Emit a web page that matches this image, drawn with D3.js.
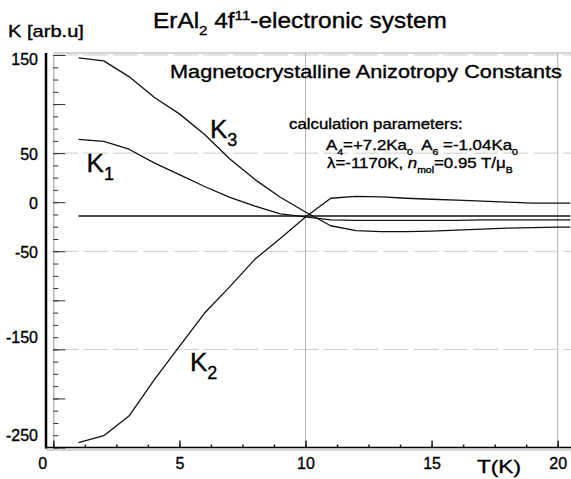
<!DOCTYPE html>
<html>
<head>
<meta charset="utf-8">
<script src="https://cdn.jsdelivr.net/npm/d3@7/dist/d3.min.js"></script>
<style>
body { margin: 0; background: #fff; }
svg { display: block; font-family: "Liberation Sans", Arial, sans-serif; }
svg text { white-space: pre; stroke: #000; stroke-width: 0.35px; }
</style>
</head>
<body>
<svg id="chart"></svg>
<script>
// temperature grid (K) and anisotropy constants
const T_values = [1, 2, 3, 4, 5, 6, 7, 8, 9, 10, 11, 12, 13, 14, 15, 16, 17, 18, 19, 20, 20.5]
const K1 = [64, 62, 54, 40, 28, 16, 5, -4, -12, -15, -18, -18.5, -18.5, -18.5, -18.5, -18.5, -18, -18, -18, -18, -18]
const K2 = [-245, -238, -218, -181, -147, -113, -86, -58, -37, -15, 4, 6, 5.5, 4, 3, 2, 1, 0, -1, -1, -1]
const K3 = [147, 144, 128, 107, 90, 69, 44, 23, 5, -10, -24, -29, -30, -30, -29.5, -28.5, -27.5, -26.5, -26, -25.5, -25.5]
const K_flat = [-14, -14, -14, -14, -14, -14, -14, -14, -14, -14, -14, -14, -14, -14, -14, -14, -14, -14, -14, -14, -14]

const x_ticks = [0, 5, 10, 15, 20]
const y_ticks = [150, 50, 0, -50, -150, -250]
const y_grid = [150, 50, -50, -150]
const x_grid = [10, 20]

// curve labels: [name, subscript, T, K]
const curve_labels = [["K", "1", 1.32, 30.7], ["K", "2", 5.42, -171.8], ["K", "3", 6.21, 65]]

const width = 571,
      height = 479

const svg = d3.select("#chart")
    .attr("width", width)
    .attr("height", height)

const x = d3.scaleLinear().domain([0, 20]).range([53.3, 557.7])
const y = d3.scaleLinear().domain([-250, 150]).range([447.5, 55])

const frame_x = 46

// stretch a text node horizontally so it spans w pixels
function fit(sel, w) {
    const bb = sel.node().getBBox()
    const s = w / bb.width
    sel.attr("transform", `translate(${bb.x},0) scale(${s},1) translate(${-bb.x},0)`)
}

// text made of plain / sub / sup pieces
function rich(parent, px, py, size, parts) {
    const t = parent.append("text").attr("x", px).attr("y", py).attr("font-size", size).attr("fill", "#000")
    let shift = 0
    for (const [str, kind] of parts) {
        const target = kind === "sub" ? size * 0.33 : kind === "sup" ? -size * 0.38 : 0
        t.append("tspan")
            .attr("dy", target - shift)
            .attr("font-size", kind === "sub" || kind === "sup" ? size * 0.62 : size)
            .attr("font-style", kind === "it" ? "italic" : null)
            .text(str)
        shift = target
    }
    return t
}

// grid
svg.append("g").selectAll("line").data(y_grid).join("line")
    .attr("x1", x(0)).attr("x2", width)
    .attr("y1", d => y(d)).attr("y2", d => y(d))
    .attr("stroke", "#cccccc").attr("stroke-width", 1).attr("stroke-dasharray", "25,5")

svg.append("g").selectAll("line").data(x_grid).join("line")
    .attr("x1", d => x(d)).attr("x2", d => x(d))
    .attr("y1", y(150) - 2).attr("y2", y(-250))
    .attr("stroke", "#b4b4b4").attr("stroke-width", 1)

svg.append("line")
    .attr("x1", x(0)).attr("x2", width).attr("y1", y(150) - 2).attr("y2", y(150) - 2)
    .attr("stroke", "#aaaaaa")

// inner y axis with minor / major ticks
const yMinor = svg.append("g").attr("transform", `translate(${x(0)},0)`)
    .call(d3.axisRight(y).tickValues(d3.range(-250, 150.1, 12.5)).tickSize(5).tickSizeOuter(0).tickFormat(""))
yMinor.select(".domain").attr("stroke", "#999")
yMinor.selectAll(".tick line").attr("stroke", "#333")

const yMajor = svg.append("g").attr("transform", `translate(${x(0)},0)`)
    .call(d3.axisRight(y).tickValues(d3.range(-250, 150.1, 50)).tickSize(12).tickFormat(""))
yMajor.select(".domain").remove()
yMajor.selectAll(".tick line").attr("stroke", "#333")

// x axis ticks pointing up
const xMinor = svg.append("g").attr("transform", `translate(0,${y(-250)})`)
    .call(d3.axisTop(x).tickValues(d3.range(0, 20.1, 1.25)).tickSize(3).tickSizeOuter(0).tickFormat(""))
xMinor.select(".domain").remove()
xMinor.selectAll(".tick line").attr("stroke", "#222").attr("stroke-width", 1.5)

const xMajor = svg.append("g").attr("transform", `translate(0,${y(-250)})`)
    .call(d3.axisTop(x).tickValues(x_ticks).tickSize(7).tickFormat(""))
xMajor.select(".domain").remove()
xMajor.selectAll(".tick line").attr("stroke", "#222").attr("stroke-width", 1.5)

// frame lines
svg.append("line")
    .attr("x1", frame_x).attr("x2", width).attr("y1", y(-250) + 2.5).attr("y2", y(-250) + 2.5)
    .attr("stroke", "#aaaaaa").attr("stroke-width", 1)
svg.append("line")
    .attr("x1", frame_x - 1).attr("x2", width).attr("y1", y(-250)).attr("y2", y(-250))
    .attr("stroke", "#000").attr("stroke-width", 1.6)
svg.append("line")
    .attr("x1", frame_x).attr("x2", frame_x).attr("y1", y(150) - 2).attr("y2", y(-250) + 1)
    .attr("stroke", "#000").attr("stroke-width", 2.5)

// tick labels (plain hyphen minus as in the original)
const label_shift = { "150": 4, "-150": -12, "-250": -12 }
const yLabels = svg.append("g").attr("transform", `translate(${frame_x},0)`)
    .call(d3.axisLeft(y).tickValues(y_ticks).tickSize(0).tickPadding(8).tickFormat(d => String(d)))
yLabels.select(".domain").remove()
yLabels.selectAll("text")
    .attr("font-size", 16).attr("font-family", "Liberation Sans, Arial").attr("fill", "#000")
    .attr("transform", d => `translate(0,${(label_shift[d] ?? 1)})`)

const xLabels = svg.append("g").attr("transform", `translate(0,${y(-250)})`)
    .call(d3.axisBottom(x).tickValues(x_ticks).tickSize(0).tickPadding(10).tickFormat(d => String(d)))
xLabels.select(".domain").remove()
xLabels.selectAll("text")
    .attr("font-size", 16).attr("font-family", "Liberation Sans, Arial").attr("fill", "#000")
    .attr("transform", d => d === 0 ? "translate(-11,0)" : null)

// curves
const line = d3.line().x((d, i) => x(T_values[i])).y(d => y(d))
svg.append("g").selectAll("path").data([K1, K2, K3, K_flat]).join("path")
    .attr("d", line)
    .attr("fill", "none")
    .attr("stroke", "#111")
    .attr("stroke-width", (d, i) => i === 3 ? 1.6 : 1.3)
    .attr("stroke-linejoin", "round")

// curve labels
for (const [name, sub, t, k] of curve_labels) {
    const g = svg.append("text").attr("x", x(t)).attr("y", y(k)).attr("fill", "#000")
    g.append("tspan").attr("font-size", 26).text(name)
    g.append("tspan").attr("font-size", 18).attr("dy", 8).text(sub)
}

// annotations
const title = rich(svg, 153, 28, 21.5, [["ErAl"], ["2", "sub"], [" 4f"], ["11", "sup"], ["-electronic system"]])
fit(title, 294)

const yTitle = svg.append("text").attr("x", 8).attr("y", 37).attr("font-size", 16).attr("fill", "#000").text("K [arb.u]")
fit(yTitle, 76)

const sub_title = svg.append("text").attr("x", 170).attr("y", 78).attr("font-size", 18.5).attr("fill", "#000")
    .text("Magnetocrystalline Anizotropy Constants")
fit(sub_title, 392)

const p0 = svg.append("text").attr("x", 289).attr("y", 129.5).attr("font-size", 14.5).attr("fill", "#000")
    .text("calculation parameters:")
fit(p0, 174)

const p1 = rich(svg, 326, 150, 14.5, [["A"], ["4", "sub"], ["=+7.2Ka"], ["0", "sub"], ["  A"], ["6", "sub"], [" =-1.04Ka"], ["0", "sub"]])
fit(p1, 192)

const p2 = rich(svg, 327, 168, 14.5, [["λ=-1170K, "], ["n", "it"], ["mol", "sub"], ["=0.95 T/μ"], ["B", "sub"]])
fit(p2, 186)

const xTitle = svg.append("text").attr("x", 477).attr("y", 473).attr("font-size", 19).attr("fill", "#000").text("T(K)")
fit(xTitle, 44)
</script>
</body>
</html>
